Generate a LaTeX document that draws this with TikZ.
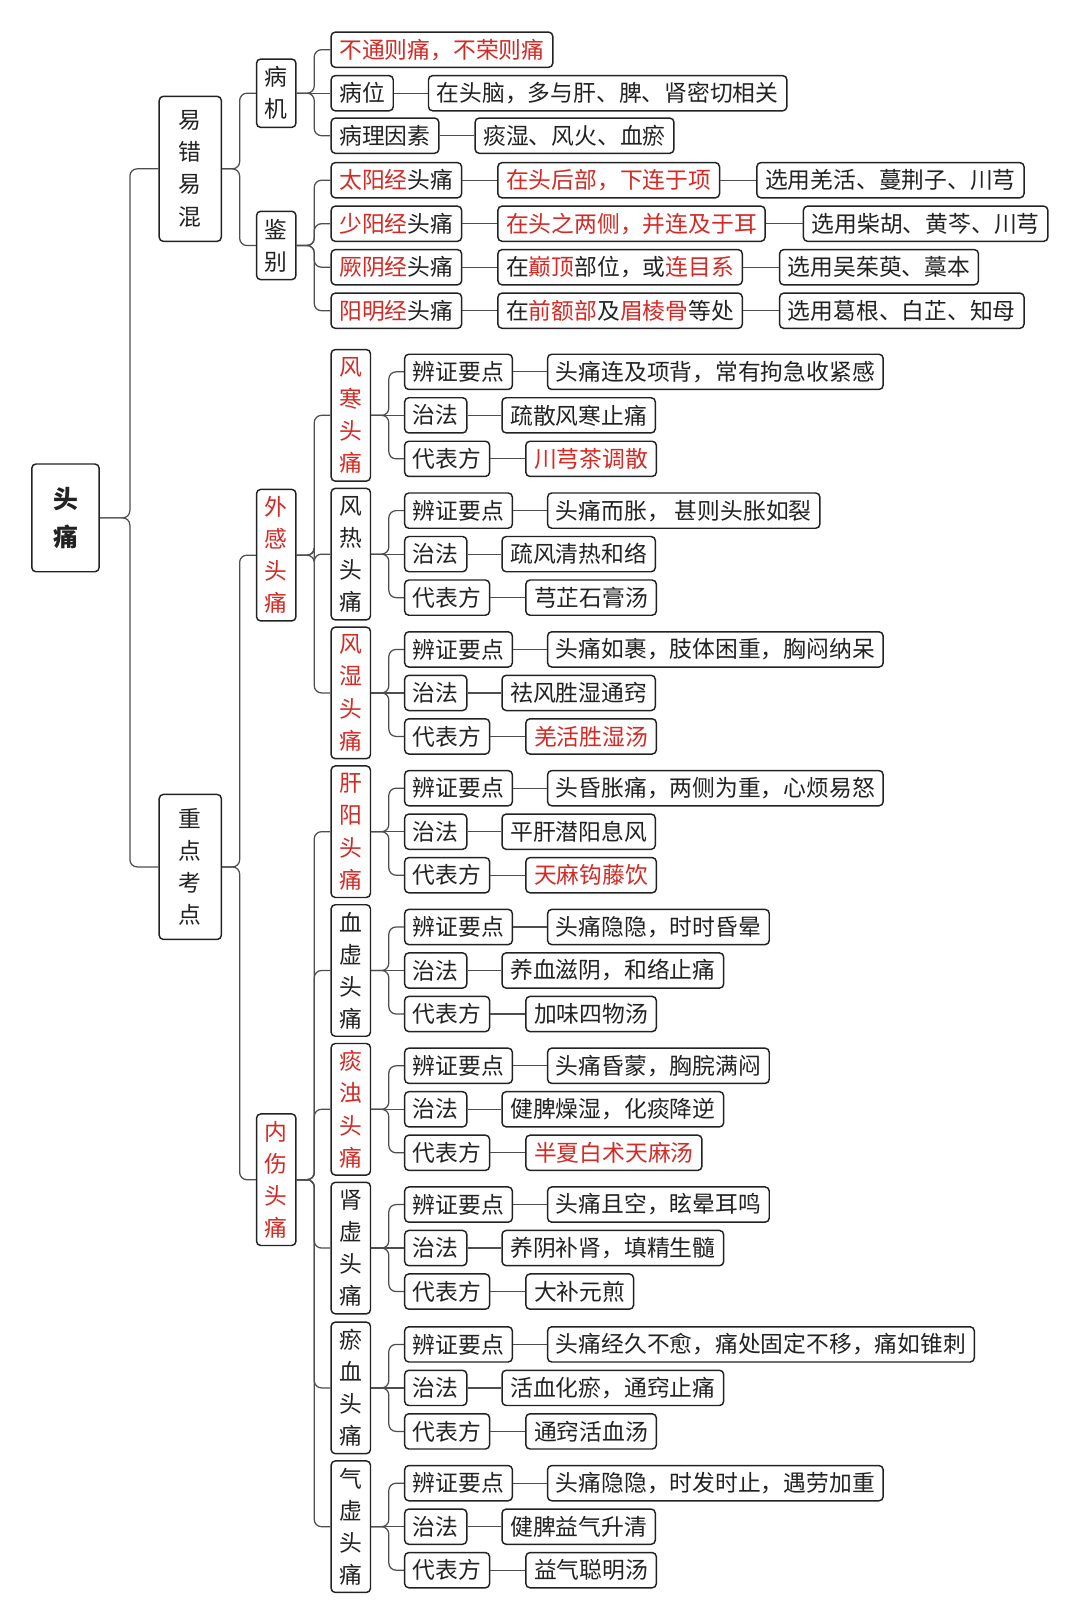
\documentclass[tikz,border=0pt]{standalone}
\usepackage{fontspec}
\setmainfont{Noto Sans CJK SC}
\usetikzlibrary{calc}
\definecolor{rd}{HTML}{D42A25}
\definecolor{ink}{HTML}{222222}
\newcommand\R[1]{\textcolor{rd}{#1}}
\tikzset{
 hbox/.style={draw=ink,line width=1.4pt,rounded corners=4pt,inner xsep=8pt,inner ysep=0pt,minimum height=34pt,font=\fontsize{22}{26}\selectfont,text=ink,anchor=west},
 vbox/.style={draw=ink,line width=1.4pt,rounded corners=4pt,minimum width=38pt,minimum height=127pt,inner sep=2pt,align=center,font=\fontsize{22}{31}\selectfont,text=ink,anchor=west},
 conn/.style={draw=ink!80,line width=1.2pt,rounded corners=7pt}
}
\newcommand\grp[8]{%
 \node[vbox] (#1) at (319,#2) {#3};
 \node[hbox] (#1a) at (390,{#2-42}) {辨证要点};
 \node[hbox] (#1b) at (390,#2) {治法};
 \node[hbox] (#1c) at (390,{#2+42}) {代表方};
 \node[hbox] (#1A) at (528,{#2-42}) {#4};
 \node[hbox] (#1B) at (484,#2) {#5};
 \node[hbox] (#1C) at (507,{#2+42}) {#6};
 \draw[conn] (#1.east) -- ++(17,0) |- (#1a.west);
 \draw[conn] (#1.east) -- ++(17,0) |- (#1c.west);
 \draw[conn] (#1.east) -- (#1b.west);
 \draw[conn] (#1a.east) -- (#1A.west);
 \draw[conn] (#1b.east) -- (#1B.west);
 \draw[conn] (#1c.east) -- (#1C.west);
}
\begin{document}
\begin{tikzpicture}[x=1pt,y=-1pt]
\useasboundingbox[fill=white] (0,0) rectangle (1043,1567);
% root
\node[vbox,minimum width=65pt,minimum height=104pt,font=\fontsize{24}{37}\selectfont\bfseries] (root) at (30,500) {头\\痛};
\node[vbox,minimum width=60pt,minimum height=140pt] (yc) at (153,163) {易\\错\\易\\混};
\node[vbox,minimum width=60pt,minimum height=140pt] (zd) at (153,837) {重\\点\\考\\点};
\draw[conn] (root.east) -- ++(29,0) |- (yc.west);
\draw[conn] (root.east) -- ++(29,0) |- (zd.west);
% 易错易混
\node[vbox,minimum height=66pt] (bj) at (247,90) {病\\机};
\node[vbox,minimum height=66pt] (jb) at (247,237) {鉴\\别};
\draw[conn] (yc.east) -- ++(17,0) |- (bj.west);
\draw[conn] (yc.east) -- ++(17,0) |- (jb.west);
\node[hbox] (b1) at (319,48) {\R{不通则痛，不荣则痛}};
\node[hbox] (b2) at (319,90) {病位};
\node[hbox] (b2x) at (413,90) {在头脑，多与肝、脾、肾密切相关};
\node[hbox] (b3) at (319,131) {病理因素};
\node[hbox] (b3x) at (458,131) {痰湿、风火、血瘀};
\draw[conn] (bj.east) -- ++(17,0) |- (b1.west);
\draw[conn] (bj.east) -- ++(17,0) |- (b3.west);
\draw[conn] (bj.east) -- (b2.west);
\draw[conn] (b2.east) -- (b2x.west);
\draw[conn] (b3.east) -- (b3x.west);
% 鉴别
\node[hbox] (j1) at (319,174) {\R{太阳经}头痛};
\node[hbox] (j1b) at (480,174) {\R{在头后部，下连于项}};
\node[hbox] (j1c) at (730,174) {选用羌活、蔓荆子、川芎};
\node[hbox] (j2) at (319,216) {\R{少阳经}头痛};
\node[hbox] (j2b) at (480,216) {\R{在头之两侧，并连及于耳}};
\node[hbox] (j2c) at (775,216) {选用柴胡、黄芩、川芎};
\node[hbox] (j3) at (319,258) {\R{厥阴经}头痛};
\node[hbox] (j3b) at (480,258) {在\R{巅顶}部位，或\R{连目系}};
\node[hbox] (j3c) at (752,258) {选用吴茱萸、藁本};
\node[hbox] (j4) at (319,300) {\R{阳明经}头痛};
\node[hbox] (j4b) at (480,300) {在\R{前额部}及\R{眉棱骨}等处};
\node[hbox] (j4c) at (752,300) {选用葛根、白芷、知母};
\foreach \i in {1,2,3,4}{
 \draw[conn] (jb.east) -- ++(17,0) |- (j\i.west);
 \draw[conn] (j\i.east) -- (j\i b.west);
 \draw[conn] (j\i b.east) -- (j\i c.west);
}
% 重点考点
\node[vbox,text=rd] (wg) at (247,536) {外\\感\\头\\痛};
\node[vbox,text=rd] (ns) at (247,1139) {内\\伤\\头\\痛};
\draw[conn] (zd.east) -- ++(17,0) |- (wg.west);
\draw[conn] (zd.east) -- ++(17,0) |- (ns.west);
\grp{fh}{401}{\R{风}\\\R{寒}\\\R{头}\\\R{痛}}{头痛连及项背，常有拘急收紧感}{疏散风寒止痛}{\R{川芎茶调散}}{}{}
\grp{fr}{535}{风\\热\\头\\痛}{头痛而胀， 甚则头胀如裂}{疏风清热和络}{芎芷石膏汤}{}{}
\grp{fs}{669}{\R{风}\\\R{湿}\\\R{头}\\\R{痛}}{头痛如裹，肢体困重，胸闷纳呆}{祛风胜湿通窍}{\R{羌活胜湿汤}}{}{}
\grp{gy}{803}{\R{肝}\\\R{阳}\\\R{头}\\\R{痛}}{头昏胀痛，两侧为重，心烦易怒}{平肝潜阳息风}{\R{天麻钩藤饮}}{}{}
\grp{xx}{937}{血\\虚\\头\\痛}{头痛隐隐，时时昏晕}{养血滋阴，和络止痛}{加味四物汤}{}{}
\grp{tz}{1071}{\R{痰}\\\R{浊}\\\R{头}\\\R{痛}}{头痛昏蒙，胸脘满闷}{健脾燥湿，化痰降逆}{\R{半夏白术天麻汤}}{}{}
\grp{sx}{1205}{肾\\虚\\头\\痛}{头痛且空，眩晕耳鸣}{养阴补肾，填精生髓}{大补元煎}{}{}
\grp{yx}{1340}{瘀\\血\\头\\痛}{头痛经久不愈，痛处固定不移，痛如锥刺}{活血化瘀，通窍止痛}{通窍活血汤}{}{}
\grp{qx}{1474}{气\\虚\\头\\痛}{头痛隐隐，时发时止，遇劳加重}{健脾益气升清}{益气聪明汤}{}{}
\foreach \n in {fh,fr,fs}{\draw[conn] (wg.east) -- ++(17,0) |- (\n.west);}
\foreach \n in {gy,xx,tz,sx,yx,qx}{\draw[conn] (ns.east) -- ++(17,0) |- (\n.west);}
\end{tikzpicture}
\end{document}
